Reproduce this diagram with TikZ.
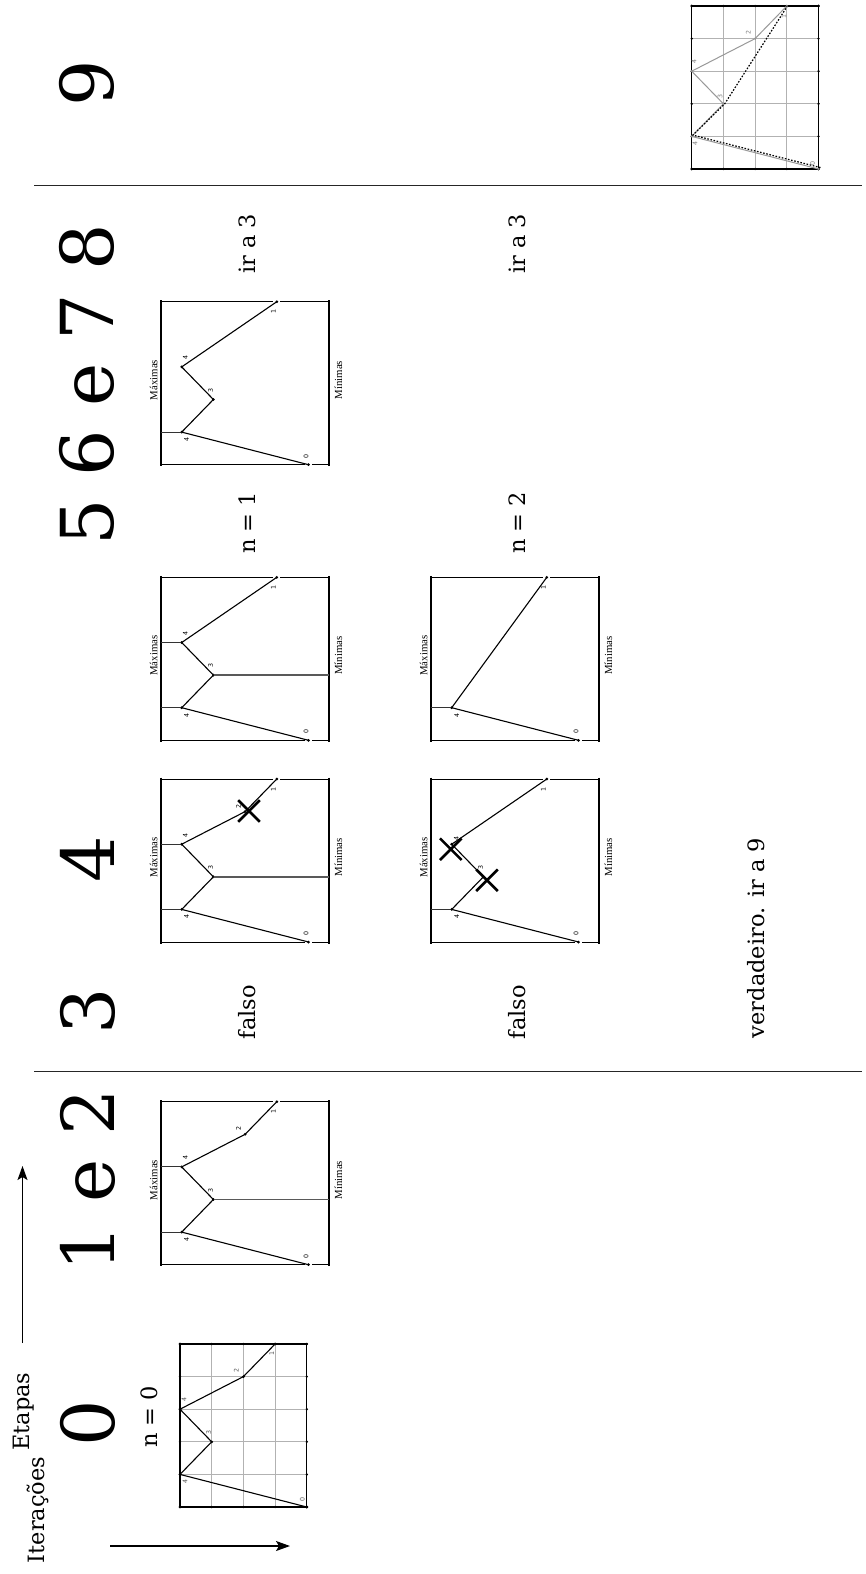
\documentclass[tikz,border=0pt]{standalone}
\usepackage{fontspec}
\setmainfont{DejaVu Serif}
\newfontfamily\libser{Liberation Serif}
\newfontfamily\djsans{DejaVu Sans}
\usetikzlibrary{arrows.meta,calc,shapes.misc}
\newcommand{\digfnt}{\fontsize{73}{80}\selectfont}
\newcommand{\txtfnt}{\fontsize{22.5}{26}\selectfont}
\newcommand{\labfnt}{\libser\fontsize{10.8}{12}\selectfont}
\newcommand{\tinyfnt}{\djsans\fontsize{6.3}{7}\selectfont}
\tikzset{
  axisl/.style={line width=1.8pt, black},
  frl/.style={line width=0.9pt, black},
  treel/.style={line width=1.1pt, black},
  tickl/.style={line width=1pt, black!80},
  midl/.style={line width=1.4pt, black!65},
  dotpt/.style={circle, fill=black, inner sep=0pt, minimum size=3pt},
  ptlab/.style={font=\tinyfnt, rotate=90, inner sep=0pt},
  maxl/.style={font=\labfnt, rotate=90, inner sep=0pt},
  dig/.style={font=\digfnt, rotate=90, inner sep=0pt},
  txt/.style={font=\txtfnt, rotate=90, inner sep=0pt, anchor=base},
  xmk/.style={draw, cross out, line width=2.6pt, minimum size=19pt, inner sep=0pt},
  rulel/.style={line width=1.3pt, black!85},
  arr/.style={line width=1.2pt, -{Stealth[length=14pt,width=10pt,inset=3pt]}},
  gridl/.style={line width=0.8pt, black!30},
  gframe/.style={line width=1.1pt, black},
  greyl/.style={line width=1pt, black!40},
  dotl/.style={line width=1.2pt, black, dash pattern=on 1.6pt off 1.6pt},
}
% point with label: name, position, label offset, text
\newcommand{\tp}[4]{\node[dotpt] (#1) at (#2) {};\node[ptlab] (#1l) at ($(#1)+(#3)$) {#4};}
% tree chart frame
\newcommand{\tframe}[1]{%
  \draw[axisl] (-21,-1.5) -- (-21,164.5);
  \draw[axisl] (147.3,-1.5) -- (147.3,164.5);
  \draw[frl] (-21,0) -- (91.5,0);
  \draw[frl] (98.7,0) -- (147.3,0);
  \draw[frl] (-21,163) -- (123.2,163);
  \draw[frl] (130.4,163) -- (147.3,163);
  \node[maxl] (#1max) at (-28,78.3) {Máximas};
  \node[maxl] (#1min) at (156.8,78.3) {Mínimas};
}
% grid chart frame
\newcommand{\gfrm}{%
  \foreach \i in {1,2,3} {\draw[gridl] (\i*31.7,0) -- (\i*31.7,163);}
  \foreach \j in {1,2,3,4} {\draw[gridl] (0,\j*32.6) -- (126.8,\j*32.6);}
  \draw[gframe] (0,0) rectangle (126.8,163);
  \foreach \i in {0,...,4} {\fill (\i*31.7,0) circle[radius=1.3pt]; \fill (\i*31.7,163) circle[radius=1.3pt];}
  \foreach \j in {0,...,5} {\fill (0,\j*32.6) circle[radius=1.3pt]; \fill (126.8,\j*32.6) circle[radius=1.3pt];}
}
\begin{document}
\begin{tikzpicture}[x=1pt,y=-1pt]
\useasboundingbox[fill=white] (0,0) rectangle (865,1574);

% rules
\coordinate (r1a) at (34,185.5); \coordinate (r1b) at (862,185.5);
\coordinate (r2a) at (34,1071.5); \coordinate (r2b) at (862,1071.5);
\draw[rulel] (r1a) -- (r1b);
\draw[rulel] (r2a) -- (r2b);

% big stage numbers
\node[dig] (s9) at (87,83.5) {9};
\node[dig] (s5678) at (87.3,385) {5 6 e 7 8};
\node[dig] (s4) at (87.8,859.5) {4};
\node[dig] (s3) at (87.8,1011.5) {3};
\node[dig] (s12) at (87.8,1180.5) {1 e 2};
\node[dig] (s0) at (87.5,1423) {0};

% axis labels and arrows
\node[txt] (etapas) at (29,1411.7) {Etapas};
\node[txt] (iter) at (44,1510) {Iterações};
\coordinate (etA) at (22.5,1343); \coordinate (etB) at (22.5,1166);
\draw[arr] (etA) -- (etB);
\coordinate (itA) at (110,1546); \coordinate (itB) at (290,1546);
\draw[arr] (itA) -- (itB);

% texts
\node[txt] (n0) at (157.5,1417) {n = 0};
\node[txt] (n1) at (255,523) {n = 1};
\node[txt] (n2) at (525,523) {n = 2};
\node[txt] (ir1) at (255,244) {ir a 3};
\node[txt] (ir2) at (525,244) {ir a 3};
\node[txt] (f1) at (255,1012) {falso};
\node[txt] (f2) at (525,1012) {falso};
\node[txt] (vd) at (764,938) {verdadeiro. ir a 9};

% ---------- chart 0 (grid)
\begin{scope}[shift={(180,1344)}]
  \gfrm
  \begin{scope}[every node/.append style={text=black!65}]
  \tp{ga0}{126.8,163}{-4.5,-7.7}{0}
  \tp{ga4l}{0,130.4}{5,7.3}{4}
  \tp{ga3}{31.7,97.8}{-3,-9}{3}
  \tp{ga4u}{0,65.2}{4,-9.3}{4}
  \tp{ga2}{63.4,32.6}{-7,-6}{2}
  \tp{ga1}{95.1,0}{-3.3,9.3}{1}
  \end{scope}
  \draw[treel] (ga0.center) -- (ga4l.center) -- (ga3.center) -- (ga4u.center) -- (ga2.center) -- (ga1.center);
\end{scope}

% ---------- chart 1 e 2
\begin{scope}[shift={(181.7,1101.7)}]
  \tframe{cb}
  \tp{cb0}{126.8,163}{-2.5,-8.7}{0}
  \tp{cb4l}{0,130.4}{5,7.3}{4}
  \tp{cb3}{31.7,97.8}{-2.8,-9.2}{3}
  \tp{cb4u}{0,65.2}{3.6,-9.1}{4}
  \tp{cb2}{63.4,32.6}{-6.5,-5.5}{2}
  \tp{cb1}{95.1,0}{-3.5,10}{1}
  \coordinate (cbt4l) at (-21,130.4); \coordinate (cbt4u) at (-21,65.2);
  \coordinate (cbr3) at (147.3,97.8);
  \draw[tickl] (cbt4l) -- (cb4l.center);
  \draw[tickl] (cbt4u) -- (cb4u.center);
  \draw[midl] (cb3.center) -- (cbr3);
  \draw[treel] (cb0.center) -- (cb4l.center) -- (cb3.center) -- (cb4u.center) -- (cb2.center) -- (cb1.center);
\end{scope}

% ---------- chart 4 left
\begin{scope}[shift={(181.7,779)}]
  \tframe{cc}
  \tp{cc0}{126.8,163}{-2.5,-8.7}{0}
  \tp{cc4l}{0,130.4}{5,7.3}{4}
  \tp{cc3}{31.7,97.8}{-2.8,-9.2}{3}
  \tp{cc4u}{0,65.2}{3.6,-9.1}{4}
  \tp{cc2}{63.4,32.6}{-6.5,-5.5}{2}
  \tp{cc1}{95.1,0}{-3.5,10}{1}
  \coordinate (cct4l) at (-21,130.4); \coordinate (cct4u) at (-21,65.2);
  \coordinate (ccr3) at (147.3,97.8);
  \draw[tickl] (cct4l) -- (cc4l.center);
  \draw[tickl] (cct4u) -- (cc4u.center);
  \draw[midl] (cc3.center) -- (ccr3);
  \draw[treel] (cc0.center) -- (cc4l.center) -- (cc3.center) -- (cc4u.center) -- (cc2.center) -- (cc1.center);
  \node[xmk] (ccx) at ($(cc2)+(3.9,-0.6)$) {};
\end{scope}

% ---------- chart 4 right
\begin{scope}[shift={(451.7,779)}]
  \tframe{cd}
  \tp{cd0}{126.8,163}{-2.5,-8.7}{0}
  \tp{cd4l}{0,130.4}{5,7.3}{4}
  \tp{cd3}{31.7,97.8}{-2.8,-9.2}{3}
  \tp{cd4u}{0,65.2}{4.5,-6}{4}
  \tp{cd1}{95.1,0}{-3.5,10}{1}
  \coordinate (cdt4l) at (-21,130.4);
  \draw[tickl] (cdt4l) -- (cd4l.center);
  \draw[treel] (cd0.center) -- (cd4l.center) -- (cd3.center) -- (cd4u.center) -- (cd1.center);
  \node[xmk] (cdxa) at ($(cd4u)+(-0.9,5)$) {};
  \node[xmk] (cdxb) at ($(cd3)+(3.6,3.5)$) {};
\end{scope}

% ---------- chart 5 left
\begin{scope}[shift={(181.7,577.3)}]
  \tframe{ce}
  \tp{ce0}{126.8,163}{-2.5,-8.7}{0}
  \tp{ce4l}{0,130.4}{5,7.3}{4}
  \tp{ce3}{31.7,97.8}{-2.8,-9.2}{3}
  \tp{ce4u}{0,65.2}{3.6,-9.1}{4}
  \tp{ce1}{95.1,0}{-3.5,10}{1}
  \coordinate (cet4l) at (-21,130.4); \coordinate (cet4u) at (-21,65.2);
  \coordinate (cer3) at (147.3,97.8);
  \draw[tickl] (cet4l) -- (ce4l.center);
  \draw[tickl] (cet4u) -- (ce4u.center);
  \draw[midl] (ce3.center) -- (cer3);
  \draw[treel] (ce0.center) -- (ce4l.center) -- (ce3.center) -- (ce4u.center) -- (ce1.center);
\end{scope}

% ---------- chart 5 right
\begin{scope}[shift={(451.7,577.3)}]
  \tframe{cf}
  \tp{cf0}{126.8,163}{-2.5,-8.7}{0}
  \tp{cf4l}{0,130.4}{5,7.3}{4}
  \tp{cf1}{95.1,0}{-3.5,10}{1}
  \coordinate (cft4l) at (-21,130.4);
  \draw[tickl] (cft4l) -- (cf4l.center);
  \draw[treel] (cf0.center) -- (cf4l.center) -- (cf1.center);
\end{scope}

% ---------- chart 6 e 7 8
\begin{scope}[shift={(181.7,301.7)}]
  \tframe{cg}
  \tp{cg0}{126.8,163}{-2.5,-8.7}{0}
  \tp{cg4l}{0,130.4}{5,7.3}{4}
  \tp{cg3}{31.7,97.8}{-2.8,-9.2}{3}
  \tp{cg4u}{0,65.2}{3.6,-9.1}{4}
  \tp{cg1}{95.1,0}{-3.5,10}{1}
  \coordinate (cgt4l) at (-21,130.4);
  \draw[tickl] (cgt4l) -- (cg4l.center);
  \draw[treel] (cg0.center) -- (cg4l.center) -- (cg3.center) -- (cg4u.center) -- (cg1.center);
\end{scope}

% ---------- chart 9 (grid)
\begin{scope}[shift={(691.7,6)}]
  \gfrm
  \begin{scope}[every node/.append style={text=black!50}, dotpt/.append style={fill=black!50, minimum size=2.4pt}]
  \tp{gb0}{126.8,163}{-6,-6}{0}
  \tp{gb4l}{0,130.4}{3.3,7.3}{4}
  \tp{gb3}{31.7,97.8}{-3.4,-7.3}{3}
  \tp{gb4u}{0,65.2}{2.3,-9.3}{4}
  \tp{gb2}{63.4,32.6}{-6.7,-6}{2}
  \tp{gb1}{95.1,0}{-2.7,10}{1}
  \end{scope}
  \draw[greyl] (gb0.center) -- (gb4l.center) -- (gb3.center) -- (gb4u.center) -- (gb2.center) -- (gb1.center);
  \draw[dotl] ($(gb0)+(2,-1.4)$) -- ($(gb4l)+(1.2,-1.3)$) -- ($(gb3)+(1.3,0)$) -- ($(gb1)+(0.3,0.5)$);
\end{scope}
\end{tikzpicture}
\end{document}
